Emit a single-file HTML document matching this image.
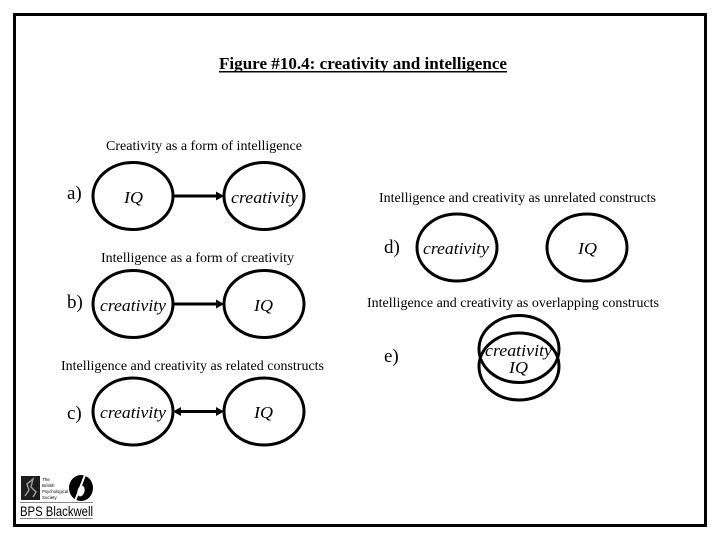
<!DOCTYPE html>
<html>
<head>
<meta charset="utf-8">
<style>
html,body{margin:0;padding:0;background:#fff;width:720px;height:540px;overflow:hidden}
svg{display:block}
text{font-family:"Liberation Serif",serif;fill:#000}
.l{font-size:14px}
.i{font-size:17px;font-style:italic}
.k{font-size:19px}
ellipse{fill:none;stroke:#000;stroke-width:3}
.c{stroke:#000;stroke-width:3}
</style>
</head>
<body>
<svg width="720" height="540" viewBox="0 0 720 540" xmlns="http://www.w3.org/2000/svg">
<rect x="14.5" y="14.5" width="691" height="511" fill="#fff" stroke="#000" stroke-width="3"/>

<text x="219" y="69" font-size="17" font-weight="bold" textLength="288" lengthAdjust="spacingAndGlyphs">Figure #10.4: creativity and intelligence</text>
<rect x="219" y="71" width="288" height="1.5" fill="#000"/>

<text class="l" x="106" y="150" textLength="196" lengthAdjust="spacingAndGlyphs">Creativity as a form of intelligence</text>
<text class="l" x="101" y="262" textLength="193" lengthAdjust="spacingAndGlyphs">Intelligence as a form of creativity</text>
<text class="l" x="61" y="370" textLength="263" lengthAdjust="spacingAndGlyphs">Intelligence and creativity as related constructs</text>
<text class="l" x="379" y="202" textLength="277" lengthAdjust="spacingAndGlyphs">Intelligence and creativity as unrelated constructs</text>
<text class="l" x="367" y="307" textLength="292" lengthAdjust="spacingAndGlyphs">Intelligence and creativity as overlapping constructs</text>

<text class="k" x="67" y="199">a)</text>
<text class="k" x="67" y="308">b)</text>
<text class="k" x="67" y="419">c)</text>
<text class="k" x="384" y="253">d)</text>
<text class="k" x="384" y="362">e)</text>

<!-- a -->
<ellipse cx="133" cy="196" rx="40" ry="33.5"/>
<ellipse cx="264" cy="196" rx="40" ry="33.5"/>
<line class="c" x1="173" y1="196" x2="218" y2="196"/>
<polygon points="224,196 216,191.5 216,200.5"/>
<text class="i" x="124" y="203" textLength="19" lengthAdjust="spacingAndGlyphs">IQ</text>
<text class="i" x="231" y="203" textLength="67" lengthAdjust="spacingAndGlyphs">creativity</text>

<!-- b -->
<ellipse cx="133" cy="304" rx="40" ry="33.5"/>
<ellipse cx="264" cy="304" rx="40" ry="33.5"/>
<line class="c" x1="173" y1="304" x2="218" y2="304"/>
<polygon points="224,304 216,299.5 216,308.5"/>
<text class="i" x="100" y="311" textLength="66" lengthAdjust="spacingAndGlyphs">creativity</text>
<text class="i" x="254" y="311" textLength="19" lengthAdjust="spacingAndGlyphs">IQ</text>

<!-- c -->
<ellipse cx="133" cy="411.500" rx="40" ry="33.5"/>
<ellipse cx="264" cy="411.500" rx="40" ry="33.5"/>
<line class="c" x1="179" y1="411.500" x2="218" y2="411.500"/>
<polygon points="224,411.500 216,407 216,416"/>
<polygon points="173,411.500 181,407 181,416"/>
<text class="i" x="100" y="418" textLength="66" lengthAdjust="spacingAndGlyphs">creativity</text>
<text class="i" x="254" y="418" textLength="19" lengthAdjust="spacingAndGlyphs">IQ</text>

<!-- d -->
<ellipse cx="457" cy="247.500" rx="40" ry="33.5"/>
<ellipse cx="587" cy="247.500" rx="40" ry="33.5"/>
<text class="i" x="423" y="254" textLength="66" lengthAdjust="spacingAndGlyphs">creativity</text>
<text class="i" x="578" y="254" textLength="19" lengthAdjust="spacingAndGlyphs">IQ</text>

<!-- e -->
<ellipse cx="519" cy="349" rx="40" ry="33.5"/>
<ellipse cx="519" cy="366.500" rx="40" ry="33.5"/>
<text class="i" x="485" y="356" textLength="67" lengthAdjust="spacingAndGlyphs">creativity</text>
<text class="i" x="509" y="373" textLength="19" lengthAdjust="spacingAndGlyphs">IQ</text>

<!-- logo -->
<rect x="21" y="476" width="19" height="24" fill="#1c1c1c"/>
<path d="M25 496 L29 490 L27 484 L33 479 L31 487 L36 492 L33 497" fill="none" stroke="#999" stroke-width="1.5"/>
<text x="42" y="481" font-size="4.500" style="font-family:'Liberation Sans',sans-serif" fill="#555">The</text>
<text x="42" y="487" font-size="4.500" style="font-family:'Liberation Sans',sans-serif" fill="#555">British</text>
<text x="42" y="493" font-size="4.500" textLength="26" lengthAdjust="spacingAndGlyphs" style="font-family:'Liberation Sans',sans-serif" fill="#555">Psychological</text>
<text x="42" y="499" font-size="4.500" style="font-family:'Liberation Sans',sans-serif" fill="#555">Society</text>
<ellipse cx="81" cy="488" rx="12" ry="13" style="fill:#000;stroke:none"/>
<ellipse cx="81" cy="491" rx="3.500" ry="5.500" style="fill:#fff;stroke:none" transform="rotate(15 81 491)"/>
<path d="M85 475 L75 501" stroke="#fff" stroke-width="2"/>
<rect x="20" y="502" width="73" height="1" fill="#888"/>
<text x="20" y="516" font-size="14" style="font-family:'Liberation Sans',sans-serif" fill="#333" textLength="73" lengthAdjust="spacingAndGlyphs">BPS Blackwell</text>
<rect x="20" y="518" width="73" height="1" fill="#888"/>
</svg>
</body>
</html>
